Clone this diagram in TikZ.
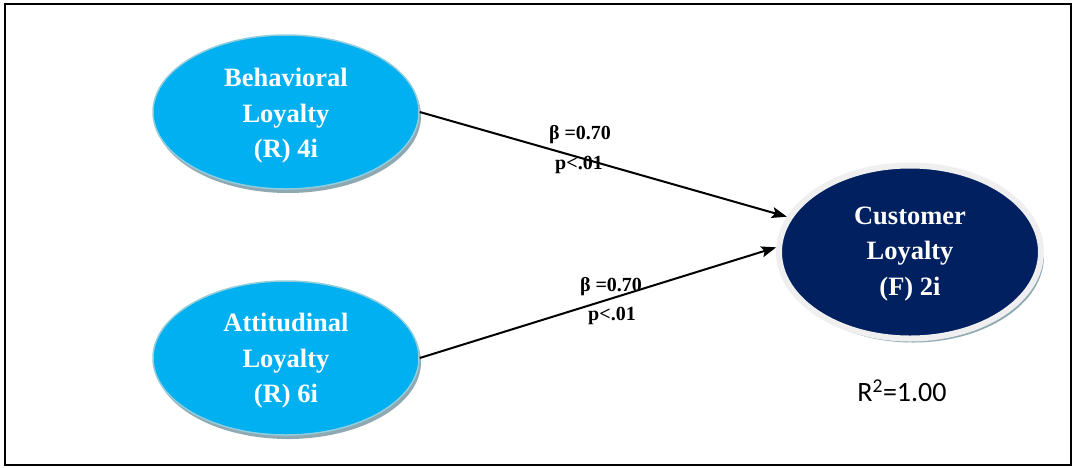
\documentclass[tikz,border=0pt]{standalone}
\usepackage{fontspec}
\setmainfont{Liberation Serif}
\newfontfamily\carlito{Carlito}
\usetikzlibrary{shapes.geometric,shadows,arrows.meta}

\definecolor{skyfill}{HTML}{00B0F0}
\definecolor{skyedge}{HTML}{92CDDC}
\definecolor{navyfill}{HTML}{002060}
\definecolor{rimgray}{HTML}{EFEFEF}
\definecolor{shadowgray}{HTML}{8FA9B3}

\tikzset{
  construct/.style={ellipse, fill=skyfill, draw=skyedge, line width=1.5pt,
    minimum width=266pt, minimum height=154pt, inner sep=0pt,
    general shadow={shadow xshift=2pt, shadow yshift=-4pt, fill=shadowgray}},
  outcome/.style={ellipse, fill=navyfill, draw=rimgray, line width=6pt,
    minimum width=262pt, minimum height=173pt, inner sep=0pt,
    general shadow={shadow xshift=3pt, shadow yshift=-4pt, fill=shadowgray}},
  ctext/.style={align=center, text=white, font=\bfseries\fontsize{26.5}{35.5}\selectfont},
  coef/.style={align=center, font=\bfseries\fontsize{20}{24}\selectfont, inner sep=0pt},
  path/.style={line width=2pt, -{Stealth[length=15pt,width=11pt,inset=3pt]}}
}

\begin{document}
\begin{tikzpicture}[x=1pt,y=-1pt]
  \useasboundingbox (0,0) rectangle (1073,467);
  \draw[line width=1.3pt] (5,4) rectangle (1071,465);

  % latent constructs
  \node[construct] (beh) at (286,112) {};
  \node[construct] (att) at (286,358) {};
  \node[outcome]   (cus) at (910,252) {};

  \node[ctext] (behtxt) at (286,116) {Behavioral\\Loyalty\\(R) 4i};
  \node[ctext] (atttxt) at (286,361) {Attitudinal\\Loyalty\\(R) 6i};
  \node[ctext] (custxt) at (910,254) {Customer\\Loyalty\\(F) 2i};

  % structural paths
  \draw[path] (beh.east) -- (cus.164);
  \draw[path] (att.east) -- (cus.178);

  % path coefficients
  \node[coef] (b1) at (580,135) {β =0.70};
  \node[coef] (p1) at (579,165) {p<.01};
  \node[coef] (b2) at (611,287) {β =0.70};
  \node[coef] (p2) at (612,316) {p<.01};

  \node[font=\carlito\fontsize{28}{32}\selectfont] (rsq) at (902,391) {R\textsuperscript{2}=1.00};
\end{tikzpicture}
\end{document}
